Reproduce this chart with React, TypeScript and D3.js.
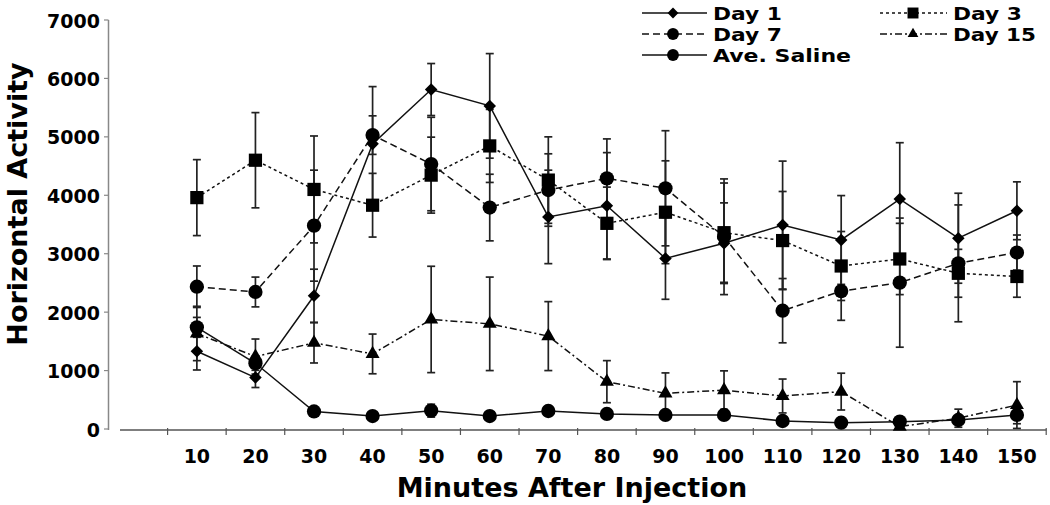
import React from "react";
import * as d3 from "d3";

const minutes = ["10", "20", "30", "40", "50", "60", "70", "80", "90", "100", "110", "120", "130", "140", "150"];
const yTicks = [0, 1000, 2000, 3000, 4000, 5000, 6000, 7000];

const day1 = [1330, 880, 2280, 4880, 5810, 5530, 3630, 3820, 2920, 3180, 3490, 3235, 3935, 3265, 3735];
const day1Err = [320, 170, 455, 980, 445, 895, 800, 910, 700, 690, 1095, 760, 965, 770, 495];

const day3 = [3960, 4600, 4100, 3830, 4345, 4845, 4260, 3520, 3710, 3360, 3225, 2790, 2910, 2665, 2610];
const day3Err = [650, 815, 915, 545, 650, 625, 740, 620, 880, 850, 840, 590, 610, 410, 355];

const day7 = [2435, 2345, 3480, 5030, 4535, 3790, 4090, 4290, 4120, 3290, 2025, 2360, 2505, 2835, 3020];
const day7Err = [355, 255, 950, 330, 800, 570, 620, 675, 985, 990, 550, 500, 1105, 1000, 300];

const day15 = [1635, 1240, 1475, 1285, 1875, 1800, 1590, 810, 610, 665, 565, 640, 40, 185, 410];
const day15Err = [465, 300, 345, 340, 910, 800, 590, 360, 350, 330, 290, 315, 60, 155, 400];

const saline = [1740, 1125, 300, 222, 314, 222, 308, 257, 240, 240, 137, 108, 126, 154, 240];
const salineErr = [170, 120, 60, 50, 110, 50, 80, 70, 60, 60, 60, 50, 50, 60, 150];

const FONT = "'DejaVu Sans', Verdana, sans-serif";

type Series = {
  name: string;
  values: number[];
  errs: number[];
  dash: string;
  symbol: d3.SymbolType;
  size: number;
  legendSize: number;
};

const series: Series[] = [
  { name: "Ave. Saline", values: saline, errs: salineErr, dash: "none", symbol: d3.symbolCircle, size: 160, legendSize: 110 },
  { name: "Day 15", values: day15, errs: day15Err, dash: "7,3,2,3", symbol: d3.symbolTriangle, size: 85, legendSize: 50 },
  { name: "Day 7", values: day7, errs: day7Err, dash: "7,4", symbol: d3.symbolCircle, size: 160, legendSize: 110 },
  { name: "Day 3", values: day3, errs: day3Err, dash: "3,3", symbol: d3.symbolSquare, size: 175, legendSize: 120 },
  { name: "Day 1", values: day1, errs: day1Err, dash: "none", symbol: d3.symbolDiamond2, size: 100, legendSize: 75 },
];

const legendItems = [
  { name: "Day 1", col: 0, row: 0, width: 69 },
  { name: "Day 7", col: 0, row: 1, width: 69 },
  { name: "Ave. Saline", col: 0, row: 2, width: 138 },
  { name: "Day 3", col: 1, row: 0, width: 69 },
  { name: "Day 15", col: 1, row: 1, width: 83 },
];

export default function App() {
  const x = d3.scaleBand<string>().domain(["", ...minutes]).range([109, 1046.2]).padding(0);
  const y = d3.scaleLinear().domain([0, 7000]).range([429, 20]);
  const cx = (c: string) => (x(c) as number) + x.bandwidth() / 2;
  const line = d3
    .line<number>()
    .x((_, i) => cx(minutes[i]))
    .y((d) => y(d));

  const boundaries = d3.range(1, 17).map((k) => 109 + x.step() * k);
  const ink = "#111";

  const legendCols = [
    { x0: 642, x1: 707, mx: 673, tx: 713 },
    { x0: 880, x1: 947, mx: 913, tx: 953 },
  ];
  const legendRows = [13, 34, 55];

  return (
    <svg width={1050} height={505} style={{ position: "absolute", left: 0, top: 0, background: "#fff" }}>
      <rect width={1050} height={505} fill="#fff" />
      {/* Y axis */}
      <line x1={108.5} x2={108.5} y1={y(7000)} y2={y(0) + 1} stroke="#888" strokeWidth={1.5} />
      {yTicks.map((t) => (
        <g key={t}>
          <line x1={104} x2={108.5} y1={y(t)} y2={y(t)} stroke="#888" strokeWidth={1.2} />
          <text
            x={100}
            y={y(t) + 2}
            textAnchor="end"
            dominantBaseline="middle"
            fontFamily={FONT}
            fontWeight="bold"
            fontSize={19}
            fill="#000"
          >
            {t}
          </text>
        </g>
      ))}
      {/* X axis */}
      <line x1={120} x2={1046.5} y1={430} y2={430} stroke="#555" strokeWidth={1.3} />
      {boundaries.map((b, i) => (
        <line key={i} x1={b} x2={b} y1={428} y2={435} stroke="#555" strokeWidth={1.2} />
      ))}
      {minutes.map((m) => (
        <text
          key={m}
          x={cx(m)}
          y={463}
          textAnchor="middle"
          fontFamily={FONT}
          fontWeight="bold"
          fontSize={19}
          fill="#000"
        >
          {m}
        </text>
      ))}
      <text x={572} y={497} textAnchor="middle" fontFamily={FONT} fontWeight="bold" fontSize={27} fill="#000">
        Minutes After Injection
      </text>
      <text
        transform="translate(27,204) rotate(-90)"
        textAnchor="middle"
        fontFamily={FONT}
        fontWeight="bold"
        fontSize={27}
        fill="#000"
      >
        Horizontal Activity
      </text>

      {/* Error bars */}
      {series.map((s) => (
        <g key={s.name + "err"}>
          {s.values.map((v, i) => {
            const px = cx(minutes[i]);
            const top = y(v + s.errs[i]);
            const bot = y(Math.max(0, v - s.errs[i]));
            return (
              <g key={i} stroke="#222" strokeWidth={1.7}>
                <line x1={px} x2={px} y1={top} y2={bot} />
                <line x1={px - 4} x2={px + 4} y1={top} y2={top} />
                <line x1={px - 4} x2={px + 4} y1={bot} y2={bot} />
              </g>
            );
          })}
        </g>
      ))}

      {/* Lines */}
      {series.map((s) => (
        <path
          key={s.name + "line"}
          d={line(s.values) || ""}
          fill="none"
          stroke={ink}
          strokeWidth={1.5}
          strokeDasharray={s.dash}
        />
      ))}

      {/* Markers */}
      {series.map((s) => (
        <g key={s.name + "mk"}>
          {s.values.map((v, i) => (
            <path
              key={i}
              transform={`translate(${cx(minutes[i])},${y(v)})`}
              d={d3.symbol().type(s.symbol).size(s.size)() || ""}
              fill="#000"
            />
          ))}
        </g>
      ))}

      {/* Legend */}
      {legendItems.map((it) => {
        const s = series.find((q) => q.name === it.name)!;
        const c = legendCols[it.col];
        const ry = legendRows[it.row];
        return (
          <g key={it.name}>
            <line x1={c.x0} x2={c.x1} y1={ry} y2={ry} stroke={ink} strokeWidth={1.5} strokeDasharray={s.dash} />
            <path
              transform={`translate(${c.mx},${ry})`}
              d={d3.symbol().type(s.symbol).size(s.legendSize)() || ""}
              fill="#000"
            />
            <text
              x={c.tx}
              y={ry + 7}
              fontFamily={FONT}
              fontWeight="bold"
              fontSize={18}
              textLength={it.width}
              lengthAdjust="spacingAndGlyphs"
              fill="#000"
            >
              {it.name}
            </text>
          </g>
        );
      })}
    </svg>
  );
}
